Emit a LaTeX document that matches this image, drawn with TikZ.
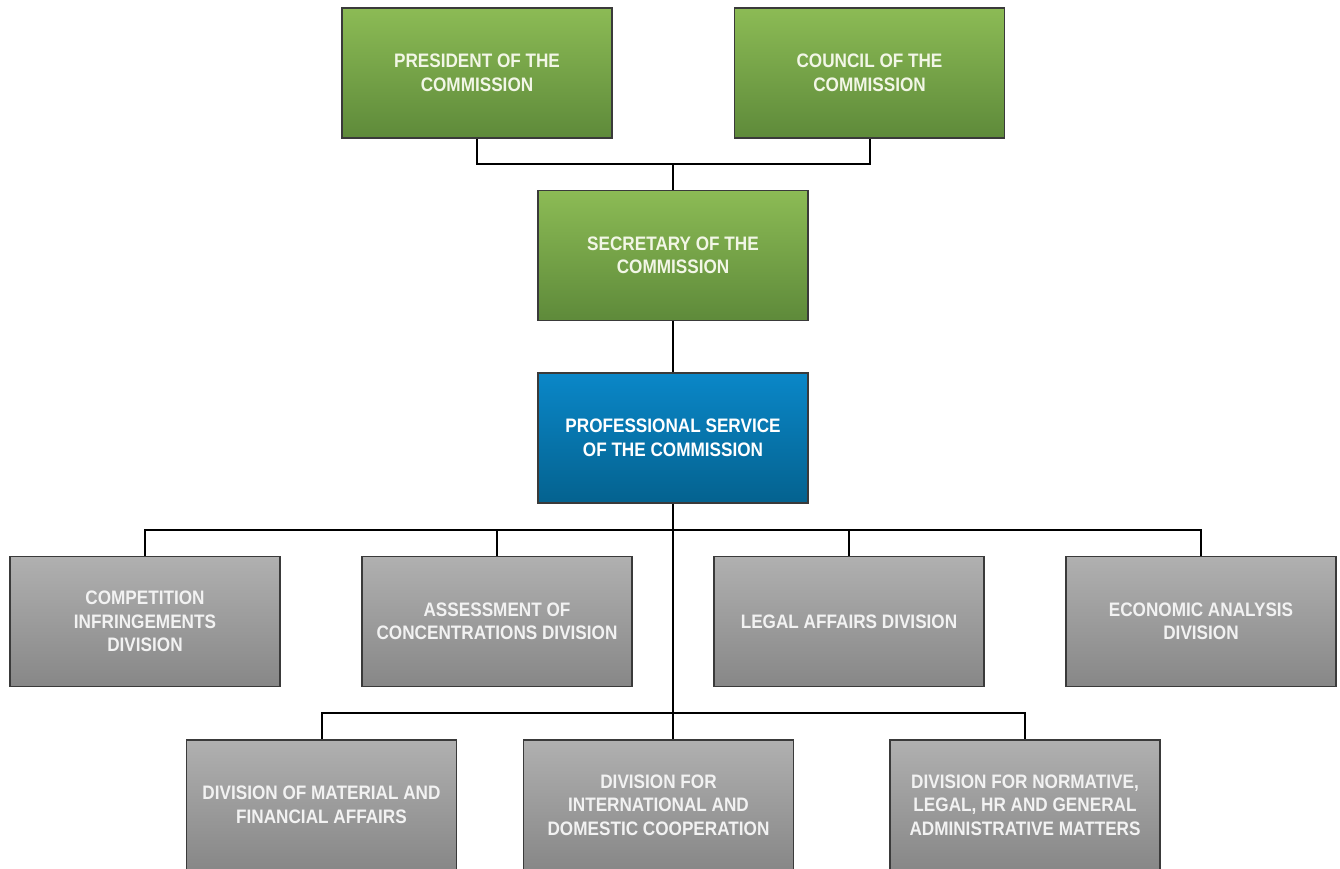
\documentclass[tikz,border=0pt]{standalone}
\usepackage{fontspec}
\setmainfont{Liberation Sans}[FakeStretch=0.88]
\definecolor{gtop}{HTML}{8CBB55}
\definecolor{gbot}{HTML}{5E8A3A}
\definecolor{btop}{HTML}{0A87C8}
\definecolor{bbot}{HTML}{04628F}
\definecolor{ytop}{HTML}{B0B0B0}
\definecolor{ybot}{HTML}{878787}
\definecolor{edge}{HTML}{3A3A3A}
\definecolor{gtext}{HTML}{F2F6E6}
\definecolor{ytext}{HTML}{F2F2F2}
\tikzset{
  box/.style={draw=edge, line width=1.3pt, minimum width=270pt, minimum height=130pt,
    inner sep=0pt, align=center, font=\fontsize{19.5}{23.5}\selectfont\bfseries},
  greenbox/.style={box, top color=gtop, bottom color=gbot, text=gtext},
  bluebox/.style={box, top color=btop, bottom color=bbot, text=white},
  graybox/.style={box, top color=ytop, bottom color=ybot, text=ytext},
  conn/.style={draw=black, line width=2pt}
}
\begin{document}
\begin{tikzpicture}[x=1pt, y=-1pt]
\useasboundingbox (0,0) rectangle (1340,869);
\clip (0,0) rectangle (1340,869);
% top
\node[greenbox] (pres) at (477,73) {PRESIDENT OF THE\\COMMISSION};
\node[greenbox] (coun) at (869.5,73) {COUNCIL OF THE\\COMMISSION};
\node[greenbox] (sec) at (673,255.5) {SECRETARY OF THE\\COMMISSION};
\node[bluebox] (prof) at (673,438) {PROFESSIONAL SERVICE\\OF THE COMMISSION};
% row 1
\node[graybox] (c1) at (145,621.5) {COMPETITION\\INFRINGEMENTS\\DIVISION};
\node[graybox] (c2) at (497,621.5) {ASSESSMENT OF\\CONCENTRATIONS DIVISION};
\node[graybox] (c3) at (849,621.5) {LEGAL AFFAIRS DIVISION};
\node[graybox] (c4) at (1201,621.5) {ECONOMIC ANALYSIS\\DIVISION};
% row 2
\node[graybox] (d1) at (321.5,805) {DIVISION OF MATERIAL AND\\FINANCIAL AFFAIRS};
\node[graybox] (d2) at (658.5,805) {DIVISION FOR\\INTERNATIONAL AND\\DOMESTIC COOPERATION};
\node[graybox] (d3) at (1025,805) {DIVISION FOR NORMATIVE,\\LEGAL, HR AND GENERAL\\ADMINISTRATIVE MATTERS};
% bus coordinates
\coordinate (bus0) at (673,164);
\coordinate (bus1) at (673,530);
\coordinate (bus2) at (673,713);
% connectors
\draw[conn] (pres.south) -- (pres.south |- bus0) -- (coun.south |- bus0) -- (coun.south);
\draw[conn] (bus0) -- (sec.north);
\draw[conn] (sec.south) -- (prof.north);
\draw[conn] (prof.south) -- (prof.south |- d2.north);
\draw[conn] (c1.north) -- (c1.north |- bus1) -- (c4.north |- bus1) -- (c4.north);
\draw[conn] (c2.north |- bus1) -- (c2.north);
\draw[conn] (c3.north |- bus1) -- (c3.north);
\draw[conn] (d1.north) -- (d1.north |- bus2) -- (d3.north |- bus2) -- (d3.north);
\end{tikzpicture}
\end{document}
